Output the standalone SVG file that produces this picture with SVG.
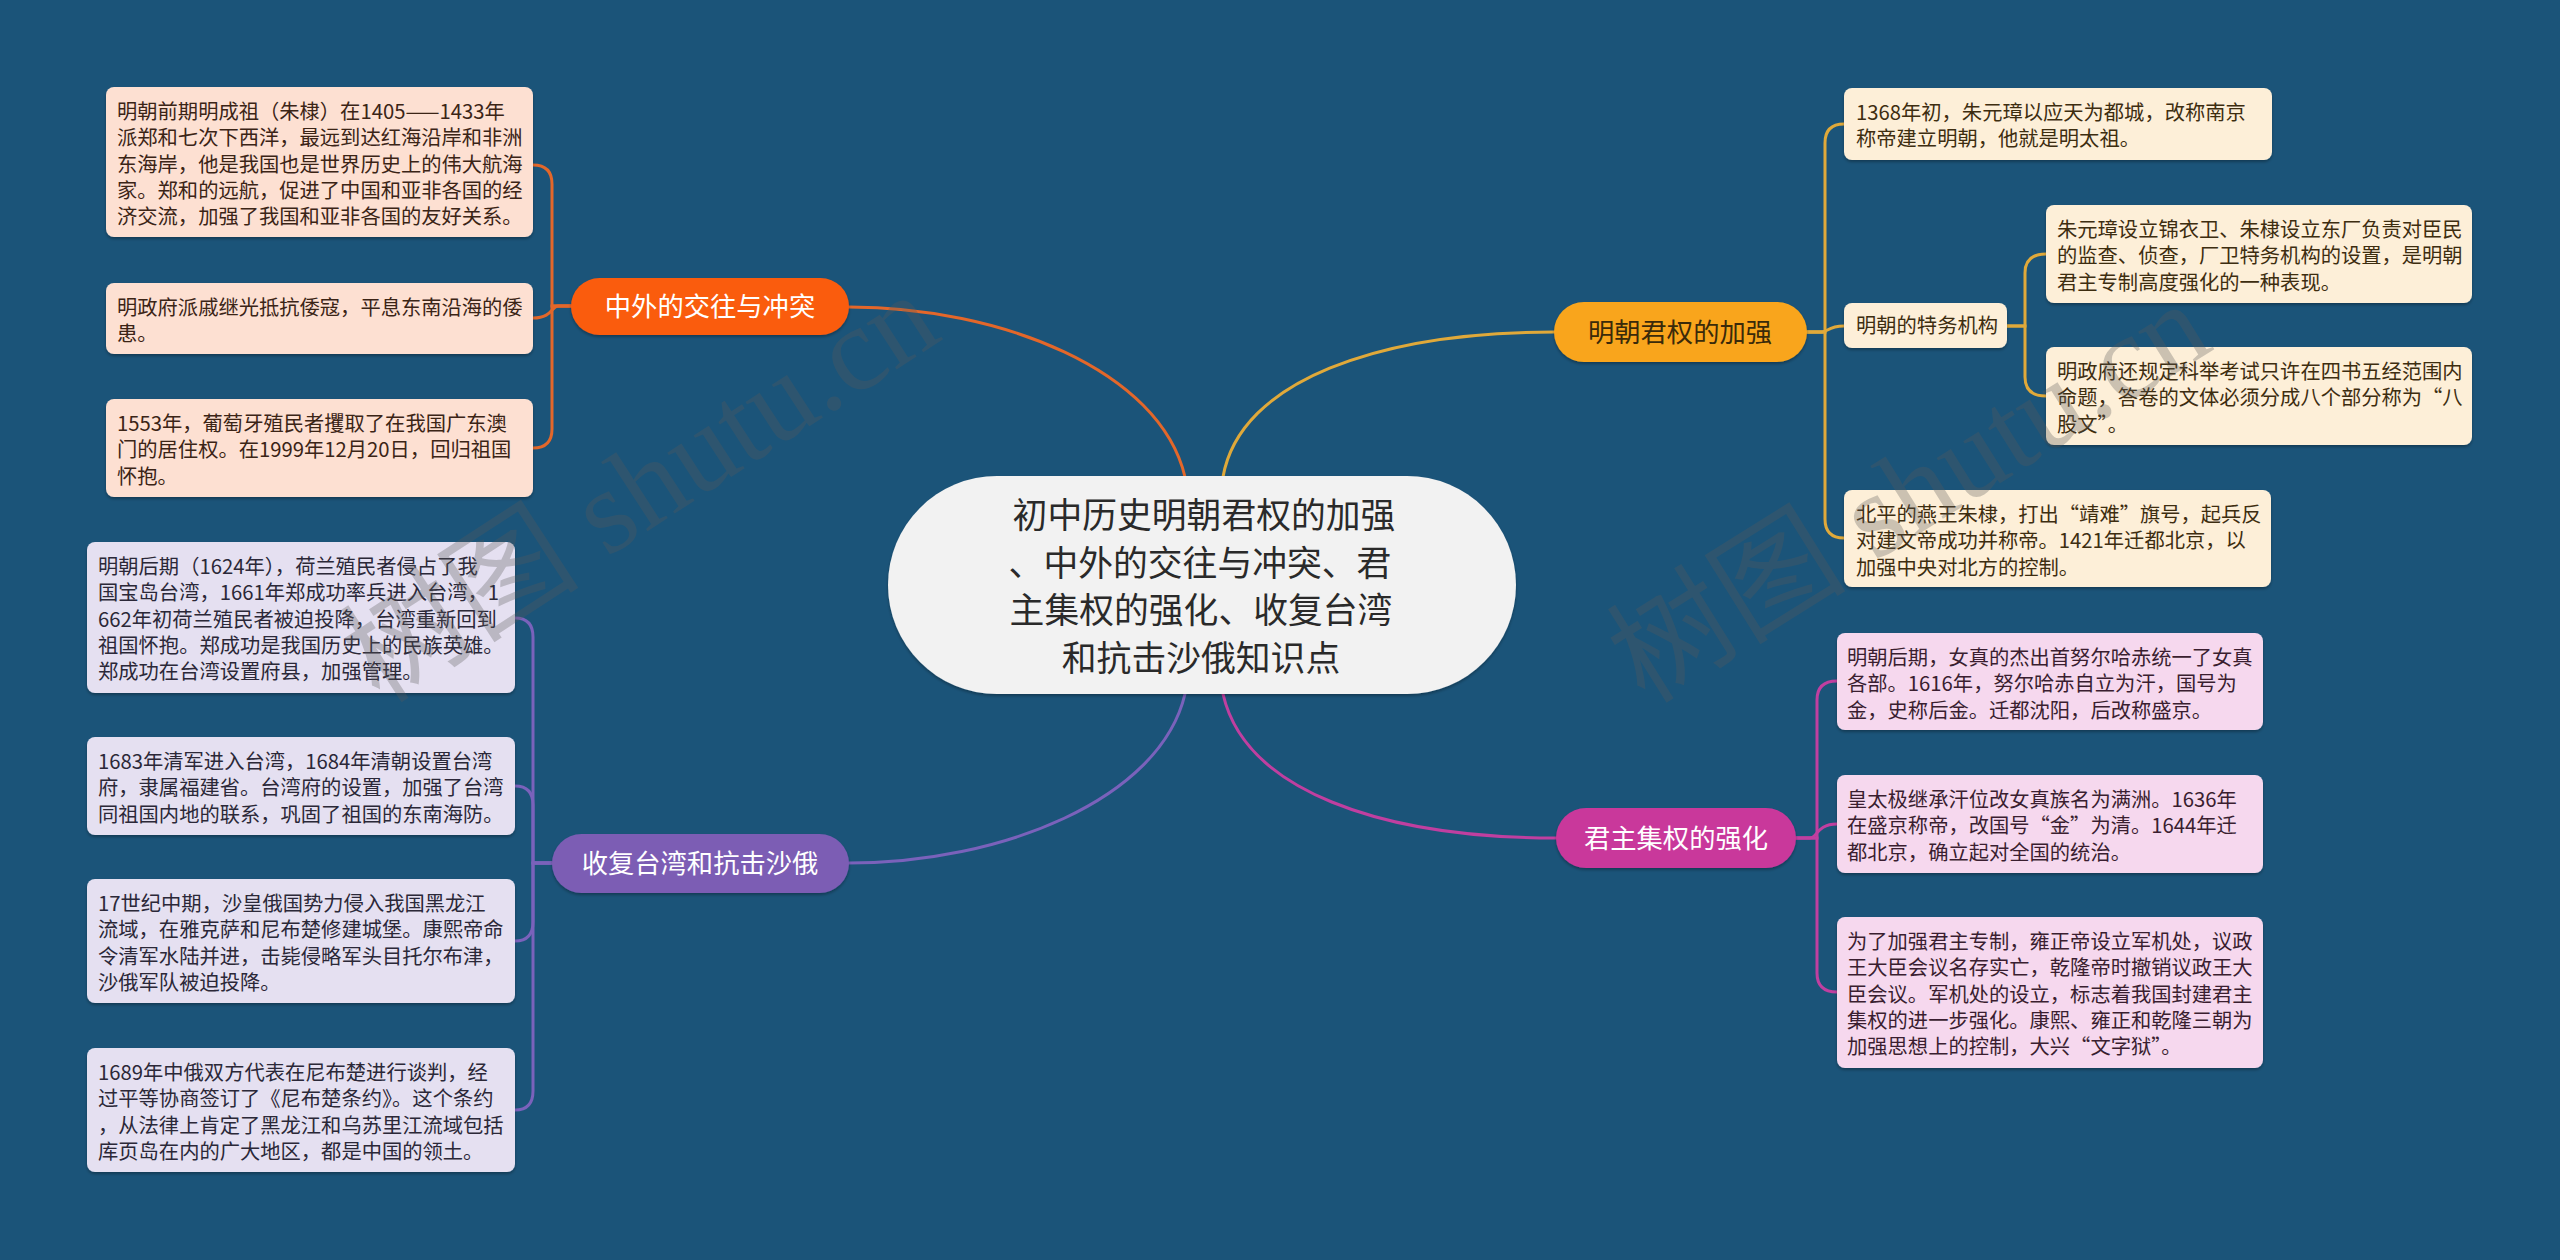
<svg xmlns="http://www.w3.org/2000/svg" width="2560" height="1260" viewBox="0 0 2560 1260">
<defs>
<filter id="sh" x="-5%" y="-10%" width="110%" height="125%"><feDropShadow dx="0" dy="2" stdDeviation="1.5" flood-color="#000" flood-opacity="0.3"/></filter>
</defs>
<style>
text{font-family:"Noto Sans CJK SC","Noto Sans",sans-serif;}
.lf{font-size:20.3px;}
.br{font-size:26.3px;text-anchor:middle;}
.ct{font-size:34.8px;text-anchor:middle;fill:#2a2a2a;}
.c{fill:none;stroke-width:3;stroke-linecap:round;}
.co{stroke:#e3672a;} .cy{stroke:#e0a93a;} .cm{stroke:#c03fa0;} .cp{stroke:#7a62bb;}
.bo{fill:#fde0d2;} .by{fill:#fdefd8;} .bm{fill:#f6d8ee;} .bp{fill:#e5e0f1;}
.to{fill:#3b2416;} .ty{fill:#3d2d10;} .tm{fill:#3a1e30;} .tp{fill:#2b2838;}
.wm{font-family:"Liberation Serif","Noto Sans CJK SC",serif;font-size:120px;fill:#5a5a5a;opacity:0.3;}
</style>
<rect x="0" y="0" width="2560" height="1260" fill="#1b5479"/>

<g id="connectors">
<path class="c co" d="M849,307 C1000,307 1160,370 1185,477"/>
<path class="c cy" d="M1223,477 C1240,380 1380,332 1554,332"/>
<path class="c cp" d="M1185,694 C1160,800 1000,863 849,863"/>
<path class="c cm" d="M1223,694 C1245,790 1380,838 1556,838"/>
<path class="c co" d="M571,306 H552 V184 Q552,165 533,165"/>
<path class="c co" d="M571,306 H558 C552,306 552,318 533,318"/>
<path class="c co" d="M571,306 H552 V429 Q552,448 533,448"/>
<path class="c cp" d="M552,863 H533 V637 Q533,618 515,618"/>
<path class="c cp" d="M552,863 H533 V805 Q533,786 515,786"/>
<path class="c cp" d="M552,863 H533 V922 Q533,941 515,941"/>
<path class="c cp" d="M552,863 H533 V1091 Q533,1110 515,1110"/>
<path class="c cy" d="M1807,332 H1825 V143 Q1825,124 1844,124"/>
<path class="c cy" d="M1807,332 H1822 C1828,332 1828,326 1844,326"/>
<path class="c cy" d="M1807,332 H1825 V519 Q1825,538 1844,538"/>
<path class="c cy" d="M2007,326 H2025 V273 Q2025,254 2046,254"/>
<path class="c cy" d="M2007,326 H2025 V377 Q2025,396 2046,396"/>
<path class="c cm" d="M1796,838 H1817 V700 Q1817,681 1837,681"/>
<path class="c cm" d="M1796,838 H1810 C1817,838 1817,824 1837,824"/>
<path class="c cm" d="M1796,838 H1817 V973 Q1817,992 1837,992"/>
</g>

<g id="center">
<rect x="888" y="476" width="628" height="218" rx="109" fill="#f2f2f2" filter="url(#sh)"/>
<text class="ct" x="1204" y="528">初中历史明朝君权的加强</text>
<text class="ct" x="1200" y="575.5">、中外的交往与冲突、君</text>
<text class="ct" x="1201" y="623">主集权的强化、收复台湾</text>
<text class="ct" x="1201" y="670.5">和抗击沙俄知识点</text>
</g>

<g id="b-waiguo">
<rect x="571" y="278" width="278" height="57" rx="28.5" fill="#fa5b0d" filter="url(#sh)"/>
<text class="br" x="710" y="316" fill="#ffffff">中外的交往与冲突</text>
</g>
<g id="b-junquan">
<rect x="1554" y="302" width="253" height="60" rx="30" fill="#f9a51b" filter="url(#sh)"/>
<text class="br" x="1680" y="342" fill="#3a2a0a">明朝君权的加强</text>
</g>
<g id="b-jiquan">
<rect x="1556" y="808" width="240" height="60" rx="30" fill="#c9379b" filter="url(#sh)"/>
<text class="br" x="1676" y="848" fill="#ffffff">君主集权的强化</text>
</g>
<g id="b-taiwan">
<rect x="552" y="834" width="297" height="59" rx="29.5" fill="#7b5db4" filter="url(#sh)"/>
<text class="br" x="700" y="873" fill="#ffffff">收复台湾和抗击沙俄</text>
</g>

<g id="l1" class="lf">
<rect class="bo" x="106" y="87" width="427" height="150" rx="8" filter="url(#sh)"/>
<text class="to" x="117" y="119">明朝前期明成祖（朱棣）在1405——1433年</text>
<text class="to" x="117" y="145.3">派郑和七次下西洋，最远到达红海沿岸和非洲</text>
<text class="to" x="117" y="171.6">东海岸，他是我国也是世界历史上的伟大航海</text>
<text class="to" x="117" y="197.9">家。郑和的远航，促进了中国和亚非各国的经</text>
<text class="to" x="117" y="224.2">济交流，加强了我国和亚非各国的友好关系。</text>
</g>
<g id="l2" class="lf">
<rect class="bo" x="106" y="283" width="427" height="71" rx="8" filter="url(#sh)"/>
<text class="to" x="117" y="315">明政府派戚继光抵抗倭寇，平息东南沿海的倭</text>
<text class="to" x="117" y="341.3">患。</text>
</g>
<g id="l3" class="lf">
<rect class="bo" x="106" y="399" width="427" height="98" rx="8" filter="url(#sh)"/>
<text class="to" x="117" y="431">1553年，葡萄牙殖民者攫取了在我国广东澳</text>
<text class="to" x="117" y="457.3">门的居住权。在1999年12月20日，回归祖国</text>
<text class="to" x="117" y="483.6">怀抱。</text>
</g>

<g id="p1" class="lf">
<rect class="bp" x="87" y="542" width="428" height="151" rx="8" filter="url(#sh)"/>
<text class="tp" x="98" y="574">明朝后期（1624年），荷兰殖民者侵占了我</text>
<text class="tp" x="98" y="600.3">国宝岛台湾，1661年郑成功率兵进入台湾，1</text>
<text class="tp" x="98" y="626.6">662年初荷兰殖民者被迫投降，台湾重新回到</text>
<text class="tp" x="98" y="652.9">祖国怀抱。郑成功是我国历史上的民族英雄。</text>
<text class="tp" x="98" y="679.2">郑成功在台湾设置府县，加强管理。</text>
</g>
<g id="p2" class="lf">
<rect class="bp" x="87" y="737" width="428" height="98" rx="8" filter="url(#sh)"/>
<text class="tp" x="98" y="769">1683年清军进入台湾，1684年清朝设置台湾</text>
<text class="tp" x="98" y="795.3">府，隶属福建省。台湾府的设置，加强了台湾</text>
<text class="tp" x="98" y="821.6">同祖国内地的联系，巩固了祖国的东南海防。</text>
</g>
<g id="p3" class="lf">
<rect class="bp" x="87" y="879" width="428" height="124" rx="8" filter="url(#sh)"/>
<text class="tp" x="98" y="911">17世纪中期，沙皇俄国势力侵入我国黑龙江</text>
<text class="tp" x="98" y="937.3">流域，在雅克萨和尼布楚修建城堡。康熙帝命</text>
<text class="tp" x="98" y="963.6">令清军水陆并进，击毙侵略军头目托尔布津，</text>
<text class="tp" x="98" y="989.9">沙俄军队被迫投降。</text>
</g>
<g id="p4" class="lf">
<rect class="bp" x="87" y="1048" width="428" height="124" rx="8" filter="url(#sh)"/>
<text class="tp" x="98" y="1080">1689年中俄双方代表在尼布楚进行谈判，经</text>
<text class="tp" x="98" y="1106.3">过平等协商签订了《尼布楚条约》。这个条约</text>
<text class="tp" x="98" y="1132.6">，从法律上肯定了黑龙江和乌苏里江流域包括</text>
<text class="tp" x="98" y="1158.9">库页岛在内的广大地区，都是中国的领土。</text>
</g>

<g id="y1" class="lf">
<rect class="by" x="1844" y="88" width="428" height="72" rx="8" filter="url(#sh)"/>
<text class="ty" x="1856" y="120">1368年初，朱元璋以应天为都城，改称南京</text>
<text class="ty" x="1856" y="146.3">称帝建立明朝，他就是明太祖。</text>
</g>
<g id="y-tewu" class="lf">
<rect class="by" x="1844" y="303" width="163" height="45" rx="8" filter="url(#sh)"/>
<text class="ty" x="1856" y="333">明朝的特务机构</text>
</g>
<g id="y2" class="lf">
<rect class="by" x="2046" y="205" width="426" height="98" rx="8" filter="url(#sh)"/>
<text class="ty" x="2057" y="237">朱元璋设立锦衣卫、朱棣设立东厂负责对臣民</text>
<text class="ty" x="2057" y="263.3">的监查、侦查，厂卫特务机构的设置，是明朝</text>
<text class="ty" x="2057" y="289.6">君主专制高度强化的一种表现。</text>
</g>
<g id="y3" class="lf">
<rect class="by" x="2046" y="347" width="426" height="98" rx="8" filter="url(#sh)"/>
<text class="ty" x="2057" y="379">明政府还规定科举考试只许在四书五经范围内</text>
<text class="ty" x="2057" y="405.3">命题，答卷的文体必须分成八个部分称为“八</text>
<text class="ty" x="2057" y="431.6">股文”。</text>
</g>
<g id="y4" class="lf">
<rect class="by" x="1844" y="490" width="427" height="97" rx="8" filter="url(#sh)"/>
<text class="ty" x="1856" y="522">北平的燕王朱棣，打出“靖难”旗号，起兵反</text>
<text class="ty" x="1856" y="548.3">对建文帝成功并称帝。1421年迁都北京，以</text>
<text class="ty" x="1856" y="574.6">加强中央对北方的控制。</text>
</g>

<g id="m1" class="lf">
<rect class="bm" x="1837" y="633" width="426" height="97" rx="8" filter="url(#sh)"/>
<text class="tm" x="1847" y="665">明朝后期，女真的杰出首努尔哈赤统一了女真</text>
<text class="tm" x="1847" y="691.3">各部。1616年，努尔哈赤自立为汗，国号为</text>
<text class="tm" x="1847" y="717.6">金，史称后金。迁都沈阳，后改称盛京。</text>
</g>
<g id="m2" class="lf">
<rect class="bm" x="1837" y="775" width="426" height="98" rx="8" filter="url(#sh)"/>
<text class="tm" x="1847" y="807">皇太极继承汗位改女真族名为满洲。1636年</text>
<text class="tm" x="1847" y="833.3">在盛京称帝，改国号“金”为清。1644年迁</text>
<text class="tm" x="1847" y="859.6">都北京，确立起对全国的统治。</text>
</g>
<g id="m3" class="lf">
<rect class="bm" x="1837" y="917" width="426" height="151" rx="8" filter="url(#sh)"/>
<text class="tm" x="1847" y="949">为了加强君主专制，雍正帝设立军机处，议政</text>
<text class="tm" x="1847" y="975.3">王大臣会议名存实亡，乾隆帝时撤销议政王大</text>
<text class="tm" x="1847" y="1001.6">臣会议。军机处的设立，标志着我国封建君主</text>
<text class="tm" x="1847" y="1027.9">集权的进一步强化。康熙、雍正和乾隆三朝为</text>
<text class="tm" x="1847" y="1054.2">加强思想上的控制，大兴“文字狱”。</text>
</g>

<g id="watermarks">
<text class="wm" transform="translate(380,705) rotate(-33)">树图 shutu.cn</text>
<text class="wm" transform="translate(1645,705) rotate(-32)">树图 shutu.cn</text>
</g>
</svg>
